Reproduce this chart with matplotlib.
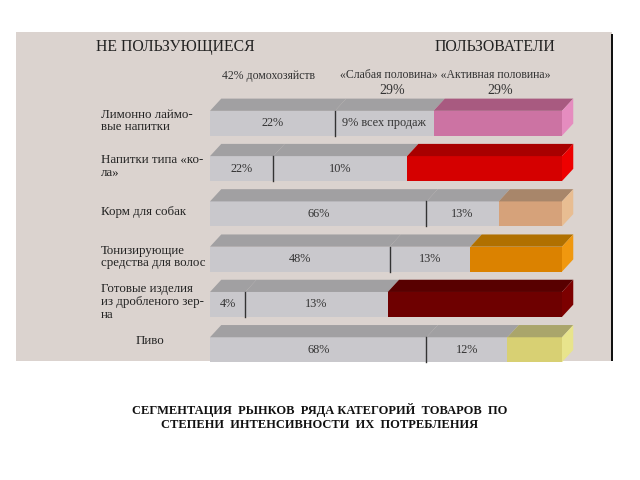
import matplotlib.pyplot as plt
from matplotlib.patches import Rectangle, Polygon

plt.rcParams['font.family'] = ['Liberation Serif', 'DejaVu Serif']

# rows, top to bottom
categories = ["Лимонно лаймо-\nвые напитки", "Напитки типа «ко-\nла»", "Корм для собак",
              "Тонизирующие\nсредства для волос", "Готовые изделия\nиз дробленого зер-\nна", "Пиво"]
# segment widths (share of the bar, %): non-users, light users, heavy users
non_users = [35.5, 18, 61.5, 51, 10, 61.5]
light_users = [28, 38, 20.5, 23, 40.5, 23]
heavy_users = [36.5, 44, 18, 26, 49.5, 15.5]
# labels written on the segments
non_labels = ["22%", "22%", "66%", "48%", "4%", "68%"]
light_labels = ["9% всех продаж", "10%", "13%", "13%", "13%", "12%"]
# heavy segment colours: front, top, side
heavy_colors = [("#cc73a3", "#a85a80", "#e58cbf"),
                ("#d50000", "#a80000", "#ee0000"),
                ("#d6a27a", "#a8866a", "#e8bd92"),
                ("#db8200", "#b07000", "#f0980f"),
                ("#6e0000", "#580000", "#7c0000"),
                ("#d8d073", "#aaa56b", "#e8e48c")]

gray_front = "#c9c8cc"
gray_top = "#a1a0a2"
panel = "#dbd3cf"

fig = plt.figure(figsize=(6.4, 4.8), dpi=100)
W, H = 640, 480

# background panel
fig.patches.append(Rectangle((16 / W, 1 - 361 / H), 596 / W, 329 / H, transform=fig.transFigure,
                             facecolor=panel, edgecolor="none", zorder=-2))
fig.patches.append(Rectangle((611 / W, 1 - 361 / H), 2 / W, 327 / H, transform=fig.transFigure,
                             facecolor="#111111", edgecolor="none", zorder=-2))

ax = fig.add_axes([210 / W, 1 - 395 / H, 352 / W, 317 / H])
ax.set_xlim(0, 100)
ax.set_ylim(6, -1)
ax.axis("off")

h = 0.55    # front face height
dx = 3.2    # depth in x (percent units)
dy = 0.27   # depth in y (row units)


def box(left, width, y, front, top, side=None):
    top_y = y - h / 2
    bot_y = y + h / 2
    right = left + width
    ax.add_patch(Rectangle((left, top_y), width, h, facecolor=front, edgecolor="none", clip_on=False))
    ax.add_patch(Polygon([(left, top_y), (left + dx, top_y - dy), (right + dx, top_y - dy), (right, top_y)],
                         closed=True, facecolor=top, edgecolor="none", clip_on=False))
    if side is not None:
        ax.add_patch(Polygon([(right, top_y), (right + dx, top_y - dy), (right + dx, bot_y - dy), (right, bot_y)],
                             closed=True, facecolor=side, edgecolor="none", clip_on=False))


last = len(categories) - 1
for i in range(len(categories)):
    a, b, c = non_users[i], light_users[i], heavy_users[i]
    box(0, a, i, gray_front, gray_top)
    box(a, b, i, gray_front, gray_top)
    front, top, side = heavy_colors[i]
    box(a + b, c, i, front, top, side)
    ax.plot([a, a], [i - h / 2, i + h / 2], color="#333333", lw=1, clip_on=False)
    ax.text(a / 2, i, non_labels[i], ha="center", va="center", fontsize=8.8, color="#333333")
    ax.text(a + b / 2, i, light_labels[i], ha="center", va="center", fontsize=8.8, color="#333333")
    # row label on the left
    if i == last:
        ax.text(-17, i - 0.2, categories[i], ha="center", va="center", fontsize=9.3, color="#222222")
    else:
        ax.text(-31, i - 0.05, categories[i], ha="left", va="center", fontsize=9.3,
                color="#222222", linespacing=1.08)

# headers
fig.text(96 / W, 1 - 47 / H, "НЕ ПОЛЬЗУЮЩИЕСЯ", fontsize=11.3, color="#222222", va="center")
fig.text(435 / W, 1 - 47 / H, "ПОЛЬЗОВАТЕЛИ", fontsize=11.3, color="#222222", va="center")
fig.text(268 / W, 1 - 76 / H, "42% домохозяйств", fontsize=8.5, color="#333333", ha="center", va="center")
fig.text(445 / W, 1 - 75 / H, "«Слабая половина» «Активная половина»", fontsize=8.5, color="#333333",
         ha="center", va="center")
fig.text(392 / W, 1 - 91 / H, "29%", fontsize=10, color="#333333", ha="center", va="center")
fig.text(500 / W, 1 - 91 / H, "29%", fontsize=10, color="#333333", ha="center", va="center")

# caption
fig.text(320 / W, 1 - 417 / H, "СЕГМЕНТАЦИЯ  РЫНКОВ  РЯДА КАТЕГОРИЙ  ТОВАРОВ  ПО\nСТЕПЕНИ  ИНТЕНСИВНОСТИ  ИХ  ПОТРЕБЛЕНИЯ",
         fontsize=9, fontweight="bold", ha="center", va="center", linespacing=1.3, color="#111111")

fig.savefig("out.png", dpi=100)
